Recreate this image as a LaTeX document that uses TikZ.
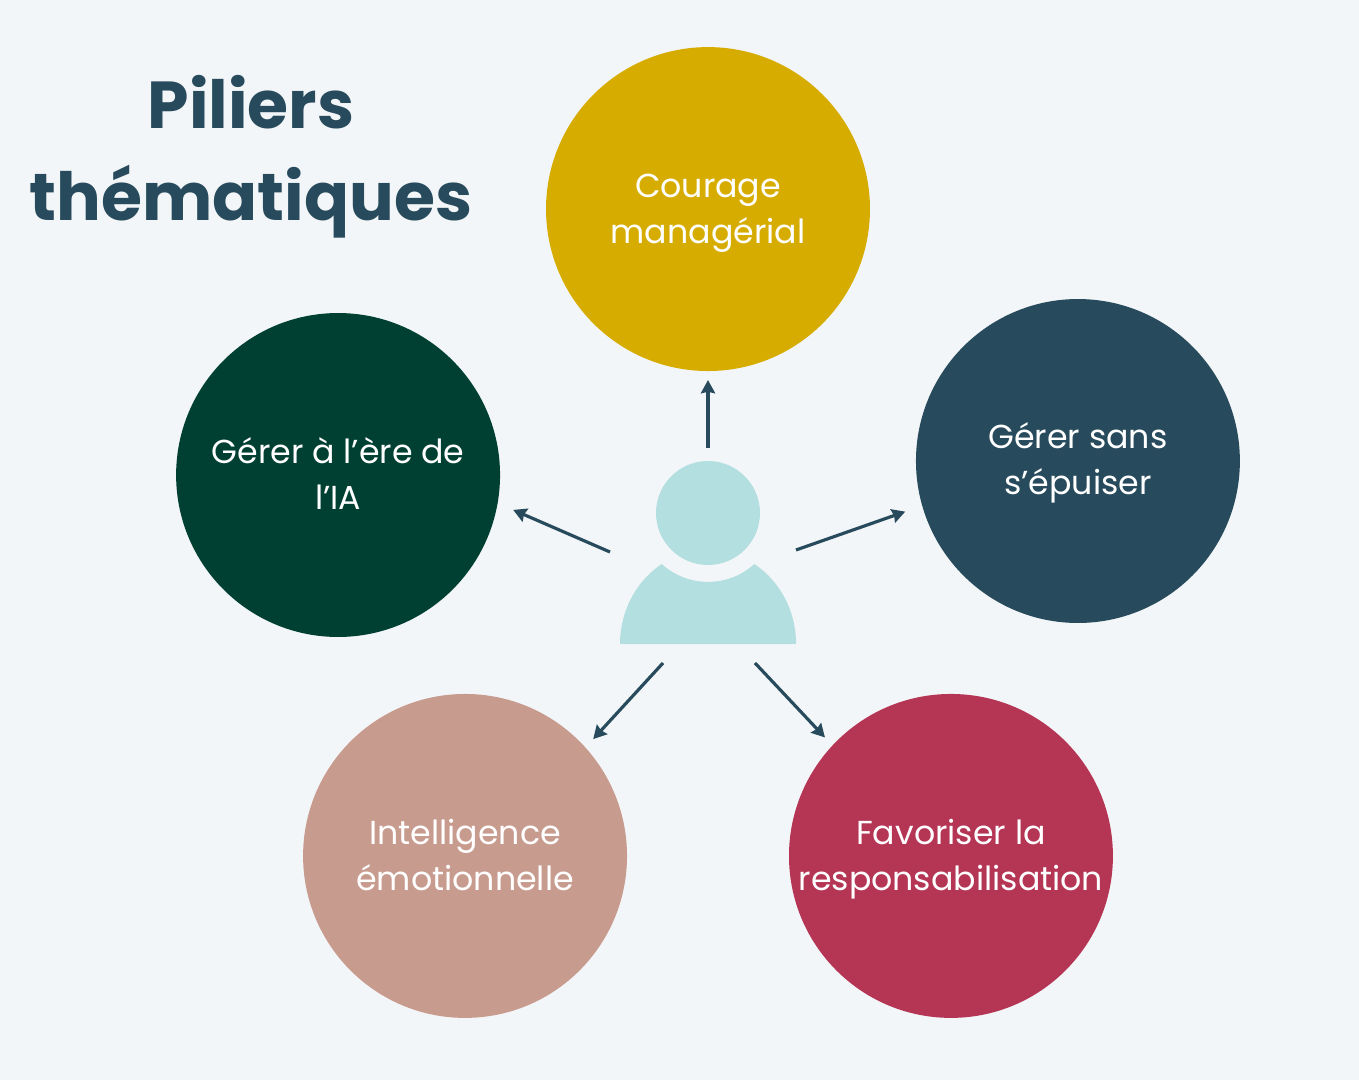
\documentclass[tikz,border=0pt]{standalone}
\usepackage{fontspec}
\setmainfont{Poppins}
\usepackage{xcolor}
\usetikzlibrary{arrows.meta,positioning}
\definecolor{pagebg}{HTML}{F3F6F8}
\definecolor{navy}{HTML}{274B5C}
\definecolor{mustard}{HTML}{D6AC00}
\definecolor{forest}{HTML}{004033}
\definecolor{dustyrose}{HTML}{C89B8F}
\definecolor{crimson}{HTML}{B53555}
\definecolor{paleteal}{HTML}{B3DFE1}

\begin{document}
\begin{tikzpicture}[
    x=0.02cm, y=0.02cm,
    pillar/.style={circle, inner sep=0pt, outer sep=0pt, minimum size=6.48cm},
    lbl/.style={align=center, text=white, font=\fontsize{18.9pt}{26.1pt}\selectfont},
    figure/.style={fill=paleteal},
    title/.style={align=center, text=navy, font=\fontsize{37.8pt}{52.2pt}\selectfont\bfseries},
    arr/.style={-{Stealth[length=7.5pt, width=8pt, inset=0.8pt]}, navy, line width=1.8pt},
]
\fill[pagebg] (0,0) rectangle (1359,1080);
\useasboundingbox (0,0) rectangle (1359,1080);

% Title
\node[title] (ttl) at (251,923) {Piliers\\thématiques};

% Person
\node[figure, circle, inner sep=0pt, outer sep=0pt, minimum size=2.08cm] (head) at (708,567) {};
\fill[figure] (620,436) arc[start angle=180, end angle=121.7, x radius=88, y radius=94]
    arc[start angle=227.8, end angle=312.2, radius=68.9]
    arc[start angle=58.3, end angle=0, x radius=88, y radius=94] -- cycle;

% Pillars
\node[pillar, fill=mustard, above=1.8cm of head, label={[lbl, name=couragetxt, yshift=-0.08cm]center:{Courage\\managérial}}] (courage) {};
\node[pillar, fill=navy, right=3.12cm of head, yshift=1.04cm, label={[lbl, name=sanstxt, yshift=-0.03cm]center:{Gérer sans\\s’épuiser}}] (sans) {};
\node[pillar, fill=forest, left=3.12cm of head, yshift=0.76cm, label={[lbl, name=iatxt, yshift=0.03cm]center:{Gérer à l’ère de\\l’IA}}] (ia) {};
\node[pillar, fill=dustyrose, below=2.58cm of head, xshift=-4.86cm, label={[lbl, name=emotxt, yshift=0.02cm]center:{Intelligence\\émotionnelle}}] (emo) {};
\node[pillar, fill=crimson, below=2.58cm of head, xshift=4.86cm, label={[lbl, name=resptxt, yshift=-0.07cm]center:{Favoriser la\\responsabilisation}}] (resp) {};

% Arrow starts
\coordinate (fromsans) at (796,530);
\coordinate (fromia) at (610,528);
\coordinate (fromemo) at (663,417);
\coordinate (fromresp) at (755,417);

% Arrows
\draw[arr, shorten <=0.26cm, shorten >=0.18cm] (head) -- (courage);
\draw[arr, shorten >=0.36cm] (fromsans) -- (sans.196.4);
\draw[arr, shorten >=0.34cm] (fromia) -- (ia.-10.9);
\draw[arr, shorten >=0.23cm] (fromemo) -- (emo.42.7);
\draw[arr, shorten >=0.22cm] (fromresp) -- (resp.137.3);
\end{tikzpicture}
\end{document}
